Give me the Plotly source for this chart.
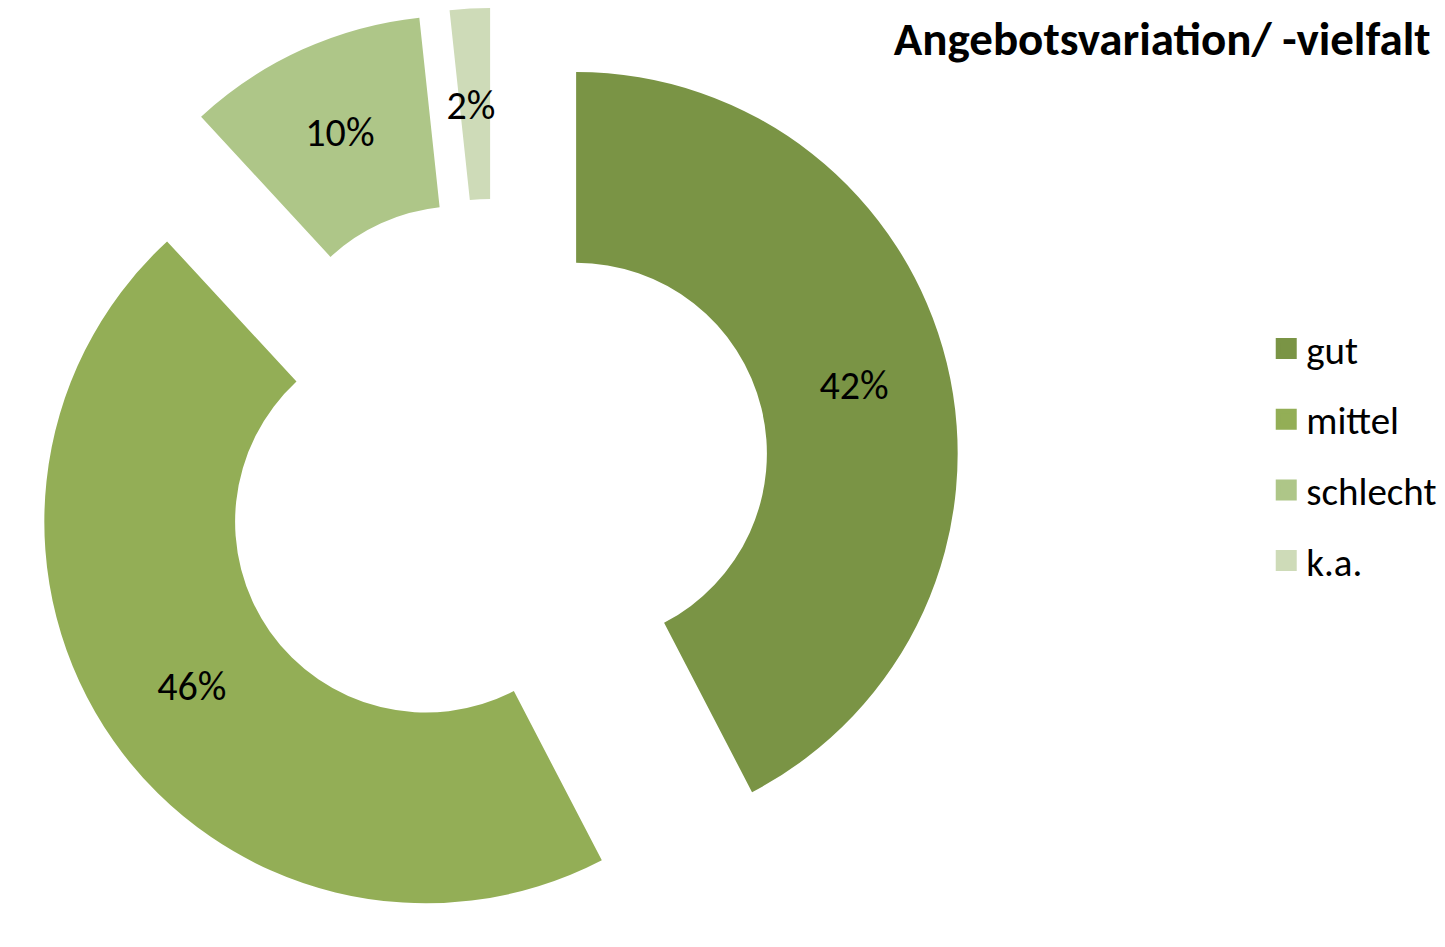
import plotly.graph_objects as go

# ---- data ----
labels = ["gut", "mittel", "schlecht", "k.a."]
counts = [25, 27, 6, 1]
colors = ["#7A9445", "#93AE56", "#AEC688", "#CEDBB8"]
title_text = "Angebotsvariation/ -vielfalt"

FONT = "Calibri, Carlito, Lato, sans-serif"

# the tiny k.a. slice: keep its label at mid-ring (Plotly pushes small-slice text outward)
templates = ["%{percent:.0%}", "%{percent:.0%}", "%{percent:.0%}",
             "&nbsp;<br>&nbsp;<br>&nbsp;<br>%{percent:.0%}"]

fig = go.Figure()
fig.add_trace(go.Pie(
    labels=labels, values=counts, sort=False, direction="clockwise", rotation=0,
    hole=0.5, pull=0.22,
    marker=dict(colors=colors, line=dict(width=0)),
    texttemplate=templates, textposition="inside",
    insidetextorientation="horizontal",
    textfont=dict(family=FONT, size=40, color="black"),
    showlegend=False,
    domain=dict(x=[0.0105, 0.6705], y=[0, 1]),
    hoverinfo="label+percent",
))

for lab, col in zip(labels, colors):
    fig.add_trace(go.Scatter(
        x=[None], y=[None], mode="markers", name=lab, legendgroup=lab,
        marker=dict(symbol="square", size=16, color=col, line=dict(color=col, width=5)),
        hoverinfo="skip",
    ))

fig.update_layout(
    margin=dict(l=0, r=0, t=0, b=0, autoexpand=False),
    paper_bgcolor="white", plot_bgcolor="white",
    xaxis=dict(visible=False), yaxis=dict(visible=False),
    title=dict(text="<b>" + title_text + "</b>", x=0.9955, xanchor="right",
               y=1 - 31 / 947, yanchor="middle", yref="container",
               font=dict(family=FONT, size=47, color="black")),
    legend=dict(x=0.8805, xanchor="left", y=0.6685, yanchor="top",
                font=dict(family=FONT, size=39, color="black"),
                tracegroupgap=17, bgcolor="rgba(0,0,0,0)"),
    uniformtext=dict(minsize=40, mode="show"),
)

fig.write_html("out.html")
